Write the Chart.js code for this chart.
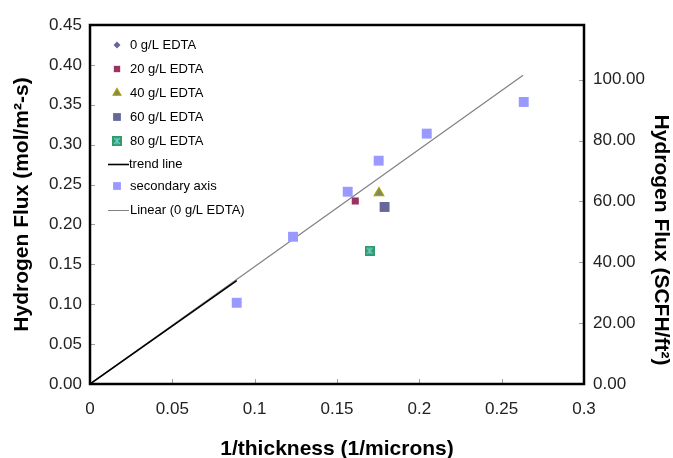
<!DOCTYPE html>
<html>
<head>
<meta charset="utf-8">
<script src="https://cdn.jsdelivr.net/npm/chart.js@4.4.0/dist/chart.umd.min.js"></script>
<style>
	body { margin: 0; background: #fff; }
	canvas { display: block; }
</style>
</head>
<body>
<canvas id="flux" width="673" height="458"></canvas>
<script>
// 1/thickness (1/microns)
const xSecondary = [0.0891, 0.1233, 0.1565, 0.1753, 0.2045, 0.2634];
// secondary axis values (SCFH/ft2)
const ySecondary = [26.7, 48.4, 63.2, 73.4, 82.3, 92.7];
// 0 g/L EDTA in mol/m2-s (sits under the secondary squares)
const y0 = [0.1018, 0.1846, 0.2410, 0.2799, 0.3139, 0.3535];

const x20 = [0.1611], y20 = [0.2294];
const x40 = [0.1755], y40 = [0.2394];
const x60 = [0.1789], y60 = [0.2219];
const x80 = [0.1698], y80 = [0.1671];

// trend line and linear fit end points
const xTrend = [0, 0.0891], yTrend = [0, 0.1295];
const xLinear = [0, 0.263], yLinear = [0, 0.387];

const xTicks = [0, 0.05, 0.1, 0.15, 0.2, 0.25, 0.3];
const legendNames = ['0 g/L EDTA', '20 g/L EDTA', '40 g/L EDTA', '60 g/L EDTA', '80 g/L EDTA',
	'trend line', 'secondary axis', 'Linear (0 g/L EDTA)'];

const pts = (xs, ys) => xs.map((x, i) => ({x: x, y: ys[i]}));

// square with a light asterisk, like the excel marker
function starSquare(size) {
	const c = document.createElement('canvas');
	c.width = size; c.height = size;
	const g = c.getContext('2d');
	g.fillStyle = '#339966';
	g.fillRect(0, 0, size, size);
	g.strokeStyle = '#66CCCC';
	g.lineWidth = 1.2;
	g.beginPath();
	g.moveTo(2, 2); g.lineTo(size - 2, size - 2);
	g.moveTo(size - 2, 2); g.lineTo(2, size - 2);
	g.moveTo(size / 2, 1.5); g.lineTo(size / 2, size - 1.5);
	g.stroke();
	return c;
}
const star = starSquare(10);

const tickFont = {family: 'Liberation Sans', size: 17};
const titleFont = {family: 'Liberation Sans', size: 21, weight: 'bold'};

const data_flux = {
	datasets: [
		{
			label: legendNames[0], data: pts(xSecondary, y0), yAxisID: 'y',
			pointStyle: 'rectRot', pointRadius: 4, backgroundColor: '#666699', borderColor: '#666699',
			showLine: false, order: 5
		},
		{
			label: legendNames[1], data: pts(x20, y20), yAxisID: 'y',
			pointStyle: 'rect', pointRadius: 5, backgroundColor: '#993366', borderColor: '#993366',
			borderWidth: 0, showLine: false, order: 2
		},
		{
			label: legendNames[2], data: pts(x40, y40), yAxisID: 'y',
			pointStyle: 'triangle', pointRadius: 5.5, backgroundColor: '#86865E', borderColor: '#A3A300',
			pointBorderWidth: 1.2, showLine: false, order: 2
		},
		{
			label: legendNames[3], data: pts(x60, y60), yAxisID: 'y',
			pointStyle: 'rect', pointRadius: 7, backgroundColor: '#666699', borderColor: '#666699',
			borderWidth: 0, showLine: false, order: 2
		},
		{
			label: legendNames[4], data: pts(x80, y80), yAxisID: 'y',
			pointStyle: star, showLine: false, order: 2
		},
		{
			label: legendNames[5], data: pts(xTrend, yTrend), yAxisID: 'y',
			showLine: true, borderColor: '#000000', borderWidth: 1.6, pointRadius: 0, order: 3
		},
		{
			label: legendNames[6], data: pts(xSecondary, ySecondary), yAxisID: 'y2',
			pointStyle: 'rect', pointRadius: 7, backgroundColor: '#9999FF', borderColor: '#9999FF',
			borderWidth: 0, showLine: false, order: 1
		},
		{
			label: legendNames[7], data: pts(xLinear, yLinear), yAxisID: 'y',
			showLine: true, borderColor: '#808080', borderWidth: 1.2, pointRadius: 0, order: 4
		}
	]
};

// inward tick marks, frame and right title
const frame = {
	id: 'frame',
	afterDraw(chart) {
		const ctx = chart.ctx;
		const a = chart.chartArea;
		ctx.save();
		ctx.strokeStyle = '#a0a0a0';
		ctx.lineWidth = 1;
		ctx.beginPath();
		chart.scales.x.ticks.forEach(t => {
			const px = Math.round(chart.scales.x.getPixelForValue(t.value)) + 0.5;
			ctx.moveTo(px, a.bottom); ctx.lineTo(px, a.bottom - 5);
		});
		chart.scales.y.ticks.forEach(t => {
			const py = Math.round(chart.scales.y.getPixelForValue(t.value)) + 0.5;
			ctx.moveTo(a.left, py); ctx.lineTo(a.left + 5, py);
		});
		chart.scales.y2.ticks.forEach(t => {
			const py = Math.round(chart.scales.y2.getPixelForValue(t.value)) + 0.5;
			ctx.moveTo(a.right, py); ctx.lineTo(a.right - 5, py);
		});
		ctx.stroke();

		ctx.strokeStyle = '#000';
		ctx.lineWidth = 2.5;
		ctx.strokeRect(a.left, a.top, a.right - a.left, a.bottom - a.top);

		// right axis title
		ctx.translate(661, 240);
		ctx.rotate(Math.PI / 2);
		ctx.font = 'bold 21px "Liberation Sans"';
		ctx.fillStyle = '#000';
		ctx.textAlign = 'center';
		ctx.textBaseline = 'middle';
		ctx.fillText('Hydrogen Flux (SCFH/ft\u00b2)', 0, 0);
		ctx.restore();
	}
};

// legend inside the plot, top left
const legendBox = {
	id: 'legendBox',
	afterDraw(chart) {
		const ctx = chart.ctx;
		const rows = [45, 69, 93, 117, 141, 164, 186, 210];
		const mx = 117, tx = 130;
		ctx.save();
		ctx.font = '13px "Liberation Sans"';
		ctx.textBaseline = 'middle';
		chart.data.datasets.forEach((ds, i) => {
			const y = rows[i];
			if (ds.showLine) {
				ctx.strokeStyle = ds.borderColor;
				ctx.lineWidth = i === 5 ? 1.6 : 1;
				ctx.beginPath();
				ctx.moveTo(108, y + 0.5); ctx.lineTo(129, y + 0.5);
				ctx.stroke();
				ctx.fillStyle = '#000';
				ctx.fillText(ds.label, i === 5 ? 129 : 130, y);
				return;
			}
			const r = {0: 3.5, 1: 4.5, 2: 4.5, 3: 5.5, 4: 5, 6: 5.5}[i];
			ctx.fillStyle = ds.backgroundColor;
			ctx.strokeStyle = ds.borderColor;
			ctx.lineWidth = ds.pointBorderWidth || 0;
			if (ds.pointStyle === star) {
				ctx.drawImage(star, mx - 5, y - 5);
			} else {
				Chart.helpers.drawPoint(ctx, {pointStyle: ds.pointStyle, radius: r, rotation: 0, borderWidth: ds.pointBorderWidth || 0}, mx, y);
			}
			ctx.fillStyle = '#000';
			ctx.fillText(ds.label, tx, y);
		});
		ctx.restore();
	}
};

const config_flux = {
	type: 'scatter',
	data: data_flux,
	plugins: [frame, legendBox],
	options: {
		responsive: false,
		animation: false,
		layout: { padding: { top: 25, right: 0, bottom: 0, left: 0 } },
		plugins: {
			legend: { display: false },
			title: { display: false },
			tooltip: { enabled: false }
		},
		scales: {
			x: {
				type: 'linear', min: 0, max: 0.3,
				afterFit: s => { s.height = 74; },
				afterBuildTicks: s => { s.ticks = xTicks.map(v => ({value: v})); },
				ticks: {
					font: tickFont, color: '#222', padding: 15, maxRotation: 0,
					callback: v => String(parseFloat(v.toFixed(2)))
				},
				grid: { display: false, drawTicks: false },
				border: { display: false },
				title: {
					display: true, text: '1/thickness (1/microns)', color: '#000',
					font: {family: 'Liberation Sans', size: 21, weight: 'bold', lineHeight: 0.8},
					padding: { top: 0, bottom: 0 }
				}
			},
			y: {
				type: 'linear', position: 'left', min: 0, max: 0.45,
				afterFit: s => { s.width = 90; },
				ticks: {
					stepSize: 0.05, font: tickFont, color: '#222', padding: 8,
					callback: v => v.toFixed(2)
				},
				grid: { display: false, drawTicks: false },
				border: { display: false },
				title: {
					display: true, text: 'Hydrogen Flux (mol/m\u00b2-s)', color: '#000',
					font: titleFont, padding: { top: 10, bottom: 0 }
				}
			},
			y2: {
				type: 'linear', position: 'right', min: 0, max: 118,
				afterFit: s => { s.width = 89; },
				ticks: {
					stepSize: 20, includeBounds: false, font: tickFont, color: '#222', padding: 9,
					callback: v => v.toFixed(2)
				},
				grid: { display: false, drawTicks: false },
				border: { display: false }
			}
		}
	}
};

const flux = new Chart(document.getElementById('flux'), config_flux);
</script>
</body>
</html>
